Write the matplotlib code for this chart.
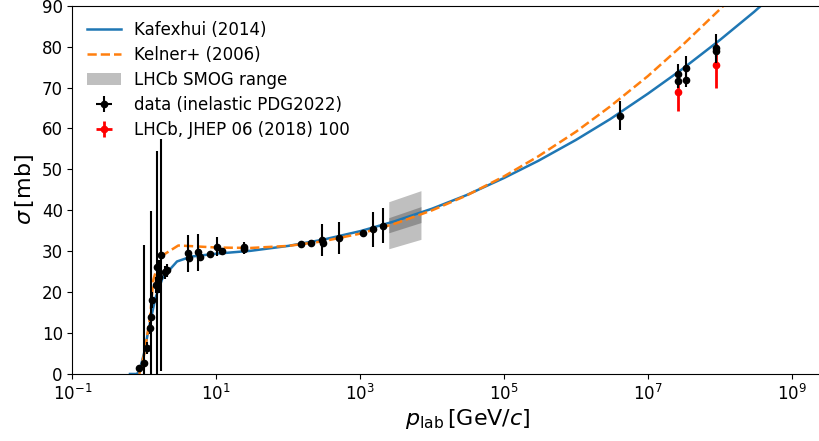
import numpy as np
import matplotlib
matplotlib.use("Agg")
import matplotlib.pyplot as plt
from matplotlib.ticker import NullLocator

# model curves
p_kaf = [0.63, 0.78, 0.85, 1.0, 1.13, 1.42, 1.8, 2.84, 4.5, 10, 30, 100, 300,
         1e3, 3e3, 1e4, 3e4, 1e5, 3e5, 1e6, 3e6, 1e7, 3e7, 1e8, 3e8, 1e9, 3e9]
sig_kaf = [0.0, 0.0, 0.6, 5.4, 10.5, 18.5, 23.6, 27.5, 28.7, 29.4, 30.1, 31.3, 32.8,
           34.9, 37.3, 40.4, 43.7, 47.9, 52.1, 57.2, 62.3, 68.5, 74.5, 81.6, 88.5, 96.7, 104.6]

p_kel = [0.85, 1.0, 1.2, 1.33, 1.56, 1.83, 2.96, 5, 10, 30, 100, 300,
         1e3, 3e3, 1e4, 3e4, 1e5, 3e5, 1e6, 3e6, 1e7, 3e7, 1e8, 1.5e8]
sig_kel = [0.0, 5.0, 14.0, 23.0, 27.1, 29.1, 31.4, 31.2, 30.9, 30.8, 31.3, 32.4,
           34.3, 36.7, 40.0, 43.6, 48.3, 53.2, 59.2, 65.4, 72.8, 80.3, 89.1, 92.2]

# LHCb SMOG band
p_smog = [2500, 7000]
smog_lo = [30.6, 32.9]
smog_hi = [42.1, 44.8]
smog_in_lo = [34.5, 37.0]
smog_in_hi = [38.2, 40.9]

# PDG inelastic data
p_data = [0.85, 1.0, 1.08, 1.20, 1.24, 1.29, 1.45, 1.48, 1.61, 1.72, 1.93, 2.04,
          4.1, 4.2, 5.6, 5.9, 8.2, 10.1, 12.0, 24.3, 24.3,
          149, 208, 298, 300, 509, 1086, 1496, 2104,
          4.12e6, 2.64e7, 2.64e7, 3.41e7, 3.41e7, 9.0e7, 9.0e7]
sig_data = [1.4, 2.6, 6.3, 11.2, 13.9, 18.1, 21.8, 26.2, 23.8, 29.1, 24.8, 25.3,
            29.5, 28.3, 29.7, 28.5, 29.3, 31.1, 30.0, 31.1, 30.5,
            31.7, 32.1, 32.8, 32.0, 33.2, 34.5, 35.4, 36.2,
            63.1, 73.2, 71.5, 74.7, 71.9, 79.6, 79.0]
err_data = [0.8, 29.0, 1.5, 1.5, 26.0, 2.0, 2.0, 28.2, 4.0, 28.3, 1.5, 1.5,
            4.5, 1.0, 4.5, 1.0, 0.8, 2.3, 0.8, 1.2, 1.2,
            0.5, 0.6, 3.9, 1.0, 4.0, 0.7, 4.3, 4.3,
            3.5, 2.6, 1.5, 3.1, 1.8, 3.5, 1.5]

# LHCb measurement
p_lhcb = [2.64e7, 9.0e7]
sig_lhcb = [68.8, 75.4]
err_lhcb = [4.5, 5.4]

xticks = [1e-1, 1e1, 1e3, 1e5, 1e7, 1e9]

fig = plt.figure(figsize=(8.2, 4.41), dpi=100)
ax = fig.add_axes([0.0884, 0.152, 0.9648, 0.835])

band = ax.fill_between(p_smog, smog_lo, smog_hi, color='grey', alpha=0.5, lw=0,
                       label='LHCb SMOG range')
ax.fill_between(p_smog, smog_in_lo, smog_in_hi, color='grey', alpha=0.75, lw=0)

l1, = ax.plot(p_kaf, sig_kaf, color='#1f77b4', lw=1.8, label='Kafexhui (2014)')
l2, = ax.plot(p_kel, sig_kel, color='#ff7f0e', lw=1.8, ls='--', label='Kelner+ (2006)')

e2 = ax.errorbar(p_lhcb, sig_lhcb, yerr=err_lhcb, xerr=np.zeros(len(p_lhcb)),
                 fmt='o', color='red', ms=4.5, elinewidth=2, zorder=3,
                 label='LHCb, JHEP 06 (2018) 100')
e1 = ax.errorbar(p_data, sig_data, yerr=err_data, xerr=np.zeros(len(p_data)),
                 fmt='o', color='k', ms=4.5, elinewidth=1.5, zorder=4,
                 label='data (inelastic PDG2022)')

ax.set_xscale('log')
ax.set_xlim(0.1, 1e10)
ax.set_ylim(0, 90)
ax.set_xticks(xticks)
ax.xaxis.set_minor_locator(NullLocator())
ax.set_yticks(np.arange(0, 91, 10))
ax.tick_params(labelsize=12)

ax.set_xlabel(r'$p_\mathrm{lab}\,[\mathrm{GeV}/c]$', fontsize=16, labelpad=2)
ax.set_ylabel(r'$\sigma\,[\mathrm{mb}]$', fontsize=16)

ax.legend([l1, l2, band, e1, e2],
          ['Kafexhui (2014)', 'Kelner+ (2006)', 'LHCb SMOG range',
           'data (inelastic PDG2022)', 'LHCb, JHEP 06 (2018) 100'],
          loc='upper left', frameon=False, fontsize=12, labelspacing=0.42)

fig.savefig('out.png', dpi=100)
